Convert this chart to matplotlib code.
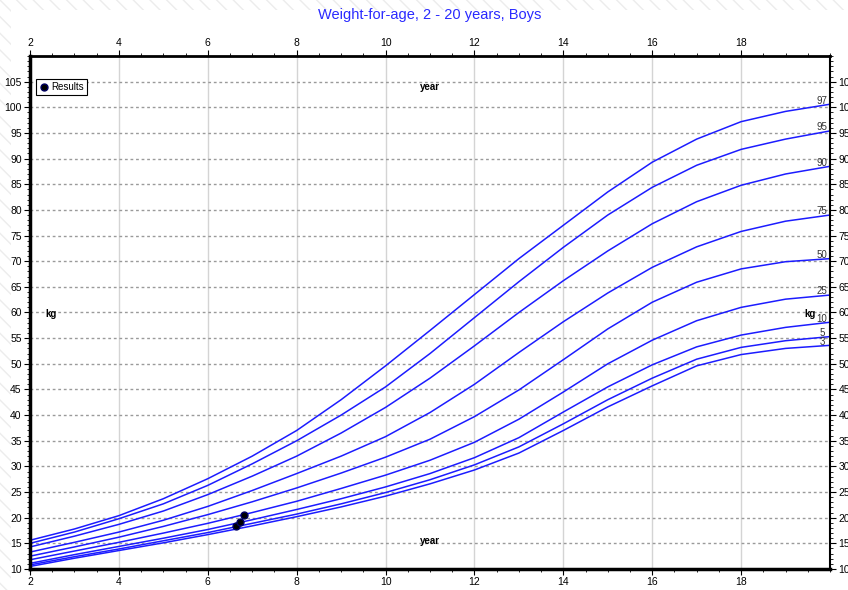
import matplotlib.pyplot as plt
from matplotlib.patches import Rectangle
from matplotlib.ticker import MultipleLocator

# Percentile curves, weight (kg) at each year of age
AGES = [2, 3, 4, 5, 6, 7, 8, 9, 10, 11, 12, 13, 14, 15, 16, 17, 18, 19, 20]
P97 = [15.6, 17.8, 20.4, 23.7, 27.6, 32.0, 37.0, 43.0, 49.6, 56.5, 63.5, 70.5, 77.0, 83.5, 89.3, 93.8, 97.2, 99.2, 100.6]
P95 = [15.0, 17.2, 19.8, 22.7, 26.3, 30.5, 35.0, 40.0, 45.5, 52.0, 59.0, 66.0, 72.7, 79.0, 84.4, 88.7, 91.8, 93.8, 95.4]
P90 = [14.3, 16.4, 18.7, 21.3, 24.5, 28.1, 32.0, 36.5, 41.5, 47.2, 53.5, 60.0, 66.2, 72.0, 77.3, 81.6, 84.8, 87.0, 88.5]
P75 = [13.3, 15.2, 17.2, 19.5, 22.2, 25.3, 28.6, 32.0, 35.8, 40.5, 46.0, 52.2, 58.2, 63.8, 68.8, 72.8, 75.8, 77.8, 79.0]
P50 = [12.5, 14.3, 16.2, 18.3, 20.6, 23.1, 25.8, 28.7, 31.8, 35.3, 39.7, 44.9, 50.8, 56.8, 62.0, 65.9, 68.5, 69.9, 70.5]
P25 = [11.8, 13.5, 15.2, 17.0, 18.9, 21.0, 23.2, 25.7, 28.3, 31.2, 34.7, 39.2, 44.5, 50.0, 54.6, 58.4, 61.0, 62.6, 63.4]
P10 = [11.1, 12.8, 14.4, 16.0, 17.7, 19.6, 21.6, 23.7, 26.0, 28.6, 31.7, 35.6, 40.6, 45.5, 49.8, 53.3, 55.6, 57.1, 58.1]
P5 = [10.8, 12.4, 13.9, 15.5, 17.1, 18.9, 20.7, 22.7, 24.9, 27.4, 30.3, 33.8, 38.3, 43.0, 47.2, 50.9, 53.2, 54.5, 55.3]
P3 = [10.5, 12.1, 13.6, 15.1, 16.7, 18.4, 20.2, 22.1, 24.2, 26.6, 29.3, 32.6, 37.0, 41.6, 45.7, 49.6, 51.8, 53.0, 53.6]
CURVES = [("97", P97), ("95", P95), ("90", P90), ("75", P75), ("50", P50),
          ("25", P25), ("10", P10), ("5", P5), ("3", P3)]

# Measured results
RES_AGE = [6.63, 6.72, 6.81]
RES_KG = [18.4, 19.1, 20.6]

plt.rcParams['font.family'] = ['Liberation Sans', 'DejaVu Sans']

W, H = 848, 590
fig = plt.figure(figsize=(W / 100, H / 100), dpi=100)

# hatched page background with a white sheet on top
fig.patches.append(Rectangle((0, 0), 1, 1, transform=fig.transFigure, facecolor='white',
                             edgecolor='#ececec', hatch='\\\\', lw=0, zorder=-10))
fig.patches.append(Rectangle((11 / W, 0), 1, 1 - 10 / H, transform=fig.transFigure,
                             facecolor='white', edgecolor='none', zorder=-9))

ax = fig.add_axes([30 / W, 21 / H, 800 / W, 513 / H])
ax.set_xlim(2, 20)
ax.set_ylim(10, 110)

for v in range(4, 20, 2):
    ax.axvline(v, color='#d4d4d4', lw=1, zorder=0)
for v in range(15, 110, 5):
    ax.axhline(v, color='#9a9a9a', lw=1, ls=(0, (2, 2)), zorder=0)

for name, vals in CURVES:
    ax.plot(AGES, vals, color='#1c1cff', lw=1.1, zorder=2)
    ax.text(19.82, vals[-1] + 0.7, name, fontsize=7, color='#333333',
            ha='center', va='center', zorder=3)

ax.plot(RES_AGE, RES_KG, 'o', color='black', mec='#000060', ms=5, label='Results', zorder=5)

ax.text(11, 104, 'year', fontsize=7, fontweight='bold', ha='center', va='center')
ax.text(11, 15.4, 'year', fontsize=7, fontweight='bold', ha='center', va='center')
ax.text(2.48, 59.8, 'kg', fontsize=7, fontweight='bold', ha='center', va='center')
ax.text(19.55, 59.8, 'kg', fontsize=7, fontweight='bold', ha='center', va='center')

ax.set_xticks(range(2, 20, 2))
ax.xaxis.set_minor_locator(MultipleLocator(0.5))
ax.set_yticks(range(10, 110, 5))
ax.yaxis.set_minor_locator(MultipleLocator(1))
ax.tick_params(axis='x', which='both', top=True, labeltop=True, bottom=True,
               labelbottom=True, direction='out', labelsize=7.5, pad=2)
ax.tick_params(axis='y', which='both', left=True, right=True, labelright=True,
               direction='out', labelsize=7.5, pad=2)
ax.tick_params(which='major', length=4, width=0.8)
ax.tick_params(which='minor', length=2.5, width=0.6)

for side, w in [('left', 2.5), ('bottom', 2.5), ('top', 2), ('right', 1.5)]:
    ax.spines[side].set_linewidth(w)
    ax.spines[side].set_color('black')

leg = ax.legend(loc='upper left', bbox_to_anchor=(0.008, 0.956), fontsize=7,
                fancybox=False, edgecolor='black', framealpha=1, handlelength=0.8,
                handletextpad=0.4, borderpad=0.35, borderaxespad=0)
leg.get_frame().set_linewidth(0.8)

fig.text(430 / W, 1 - 15 / H, 'Weight-for-age, 2 - 20 years, Boys', color='#2a2aff',
         fontsize=10.5, ha='center', va='center')

fig.savefig('out.png', dpi=100)
